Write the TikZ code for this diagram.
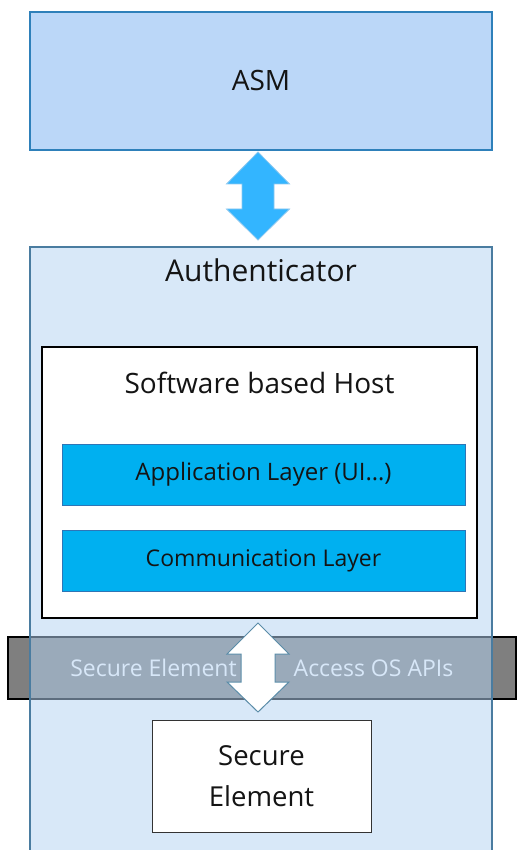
\documentclass[tikz,border=0pt]{standalone}
\usepackage{fontspec}
\setmainfont{Open Sans}
\usetikzlibrary{calc}
\definecolor{asmfill}{RGB}{187,215,248}
\definecolor{asmline}{RGB}{46,128,186}
\definecolor{authfill}{RGB}{180,210,242}
\definecolor{authline}{RGB}{74,124,160}
\definecolor{layerfill}{RGB}{0,176,240}
\definecolor{layerline}{RGB}{46,117,182}
\definecolor{arrowfill}{RGB}{51,181,255}
\definecolor{arrowline}{RGB}{140,200,240}
\definecolor{lowarrowline}{RGB}{90,140,168}
\definecolor{bandfill}{RGB}{127,127,127}
\definecolor{txt}{RGB}{20,20,20}
\tikzset{
  box/.style={rectangle, inner sep=0pt, text=txt, align=center},
  lbl/.style={inner sep=0pt, text=txt},
}
\begin{document}
\begin{tikzpicture}[x=1pt,y=-1pt]
\useasboundingbox (0,0) rectangle (517,850);
% ASM
\node[box, draw=asmline, line width=2pt, fill=asmfill, minimum width=462pt, minimum height=138pt, font=\fontsize{28}{32}\selectfont] (asm) at (261,81) {ASM};
% upper arrow
\coordinate (ua) at (258,152);
\draw[fill=arrowfill, draw=arrowline, line width=0.8pt, line join=miter]
  (ua) -- ++(31.5,32) -- ++(-15.5,0) -- ++(0,25) -- ++(15.5,0) -- ++(-31.5,31)
  -- ++(-31.5,-31) -- ++(15.5,0) -- ++(0,-25) -- ++(-15.5,0) -- cycle;
% band
\node[box, draw=black, line width=2pt, fill=bandfill, minimum width=508pt, minimum height=62pt] (band) at (262,668) {};
\node[lbl, text=white, font=\fontsize{23}{26}\selectfont] (bandl) at (153.5,668) {Secure Element};
\node[lbl, text=white, font=\fontsize{23}{26}\selectfont] (bandr) at (373.5,668) {Access OS APIs};
% authenticator
\node[box, fill=authfill, fill opacity=0.52, draw=authline, draw opacity=1, line width=1.5pt, minimum width=462pt, minimum height=620pt] (auth) at (261,557) {};
\node[lbl, font=\fontsize{30}{34}\selectfont] (authl) at (261,270) {Authenticator};
% host
\node[box, draw=black, line width=2.5pt, fill=white, minimum width=435pt, minimum height=271pt] (host) at (259.5,482.5) {};
\node[lbl, font=\fontsize{28}{32}\selectfont] (hostl) at (259.5,383) {Software based Host};
\node[box, draw=layerline, line width=1pt, fill=layerfill, minimum width=403pt, minimum height=61pt, font=\fontsize{24}{28}\selectfont] (app) at (263.5,474.5) {Application Layer (UI…)};
\node[box, draw=layerline, line width=1pt, fill=layerfill, minimum width=403pt, minimum height=61pt, font=\fontsize{23}{26}\selectfont] (comm) at (263.5,560.5) {Communication Layer};
% secure element
\node[box, draw=black!80, line width=1pt, fill=white, minimum width=219pt, minimum height=112pt, font=\fontsize{27.5}{41}\selectfont] (se) at (261.5,776) {Secure\\Element};
% lower arrow
\coordinate (la) at (258,623);
\draw[fill=white, draw=lowarrowline, line width=1pt, line join=miter]
  (la) -- ++(31,31) -- ++(-14,0) -- ++(0,28) -- ++(14,0) -- ++(-31,30)
  -- ++(-31,-30) -- ++(14,0) -- ++(0,-28) -- ++(-14,0) -- cycle;
\end{tikzpicture}
\end{document}
